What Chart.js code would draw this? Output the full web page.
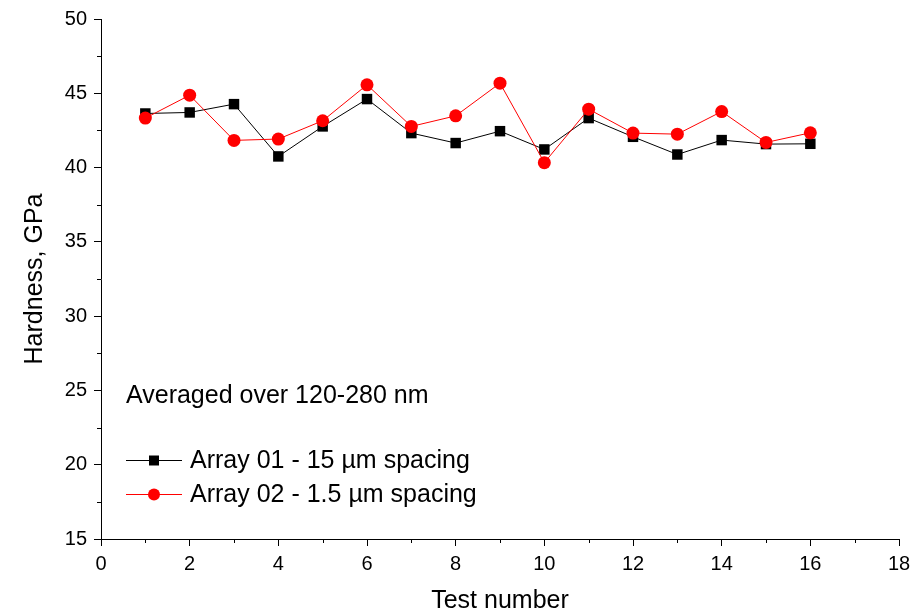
<!DOCTYPE html>
<html>
<head>
<meta charset="utf-8">
<script src="https://cdn.jsdelivr.net/npm/chart.js@4.4.0/dist/chart.umd.min.js"></script>
<style>
  html, body { margin: 0; padding: 0; background: #fff; }
  #wrap { width: 924px; height: 616px; }
</style>
</head>
<body>
<div id="wrap"><canvas id="chartHard" width="924" height="616"></canvas></div>
<script>
// ---- data ----
var testNo  = [1, 2, 3, 4, 5, 6, 7, 8, 9, 10, 11, 12, 13, 14, 15, 16];
var array01 = [43.64, 43.71, 44.27, 40.75, 42.77, 44.61, 42.32, 41.65, 42.45, 41.22, 43.33, 42.07, 40.88, 41.85, 41.58, 41.60];
var array02 = [43.33, 44.87, 41.83, 41.92, 43.15, 45.57, 42.77, 43.48, 45.68, 40.33, 43.93, 42.32, 42.25, 43.77, 41.69, 42.34];
var xTicks = { min: 0, max: 18, step: 2, minor: 1 };
var yTicks = { min: 15, max: 50, step: 5, minor: 2.5 };
var noteText = 'Averaged over 120-280 nm';

var FONT = '"Liberation Sans", Arial, Helvetica, sans-serif';
Chart.defaults.font.family = FONT;
Chart.defaults.color = '#000';

function toPoints(ys) {
  return testNo.map(function(x, i) { return { x: x, y: ys[i] }; });
}

// minor ticks + in-plot note and legend
var extras = {
  id: 'extras',
  afterDraw: function(chart) {
    var ctx = chart.ctx, a = chart.chartArea;
    var xs = chart.scales.x, ys = chart.scales.y;
    ctx.save();
    ctx.strokeStyle = '#000';
    ctx.lineWidth = 1;
    ctx.beginPath();
    for (var v = xTicks.min; v <= xTicks.max; v += xTicks.minor) {
      if (v % xTicks.step === 0) continue;
      var px = Math.round(xs.getPixelForValue(v)) + 0.5;
      ctx.moveTo(px, a.bottom); ctx.lineTo(px, a.bottom + 4);
    }
    for (var w = yTicks.min; w <= yTicks.max; w += yTicks.minor) {
      if (w % yTicks.step === 0) continue;
      var py = Math.round(ys.getPixelForValue(w)) + 0.5;
      ctx.moveTo(a.left - 4, py); ctx.lineTo(a.left, py);
    }
    ctx.stroke();

    ctx.fillStyle = '#000';
    ctx.font = '25px ' + FONT;
    ctx.textBaseline = 'alphabetic';
    ctx.textAlign = 'left';
    ctx.fillText(noteText, a.left + 25, a.top + 384);

    chart.data.datasets.slice().reverse().forEach(function(ds, i) {
      var y = a.top + 441 + i * 34;
      var x0 = a.left + 25, x1 = a.left + 81, xm = (x0 + x1) / 2;
      ctx.strokeStyle = ds.borderColor;
      ctx.lineWidth = 1;
      ctx.beginPath(); ctx.moveTo(x0, y + 0.5); ctx.lineTo(x1, y + 0.5); ctx.stroke();
      ctx.fillStyle = ds.pointBackgroundColor;
      ctx.beginPath();
      if (ds.pointStyle === 'rect') ctx.rect(xm - 5, y - 4.5, 10, 10);
      else ctx.arc(xm, y + 0.5, 6, 0, Math.PI * 2);
      ctx.fill();
      ctx.fillStyle = '#000';
      ctx.fillText(ds.label, a.left + 89, y + 8);
    });
    ctx.restore();
  }
};

var ctxHard = document.getElementById('chartHard').getContext('2d');
var chartHard = new Chart(ctxHard, {
  type: 'line',
  data: { datasets: [
    { label: 'Array 02 - 1.5 \u00b5m spacing', data: toPoints(array02), order: 0,
      borderColor: '#ff0000', backgroundColor: '#ff0000', pointBackgroundColor: '#ff0000', pointBorderColor: '#ff0000',
      borderWidth: 1, pointStyle: 'circle', pointRadius: 6.5, pointBorderWidth: 0, tension: 0 },
    { label: 'Array 01 - 15 \u00b5m spacing', data: toPoints(array01), order: 1,
      borderColor: '#000000', backgroundColor: '#000000', pointBackgroundColor: '#000000', pointBorderColor: '#000000',
      borderWidth: 1, pointStyle: 'rect', pointRadius: 7.4, pointBorderWidth: 0, tension: 0 }
  ] },
  options: {
    responsive: false, animation: false, devicePixelRatio: 1,
    layout: { padding: { top: 18, right: 25, left: 0, bottom: 0 } },
    plugins: { legend: { display: false }, tooltip: { enabled: false } },
    scales: {
      x: {
        type: 'linear', min: xTicks.min, max: xTicks.max,
        ticks: { stepSize: xTicks.step, font: { size: 20 }, padding: 6, maxRotation: 0, color: '#000' },
        grid: { drawOnChartArea: false, drawTicks: true, tickLength: 7, color: '#000' },
        border: { display: true, color: '#000', width: 1 },
        title: { display: true, text: 'Test number', font: { size: 25 }, color: '#000', padding: 0 },
        afterFit: function(s) { s.height = 77; }
      },
      y: {
        min: yTicks.min, max: yTicks.max,
        ticks: { stepSize: yTicks.step, font: { size: 20 }, padding: 7, color: '#000' },
        grid: { drawOnChartArea: false, drawTicks: true, tickLength: 7, color: '#000' },
        border: { display: true, color: '#000', width: 1 },
        title: { display: true, text: 'Hardness, GPa', font: { size: 25 }, color: '#000', padding: 20 },
        afterFit: function(s) { s.width = 101; }
      }
    }
  },
  plugins: [extras]
});
</script>
</body>
</html>
